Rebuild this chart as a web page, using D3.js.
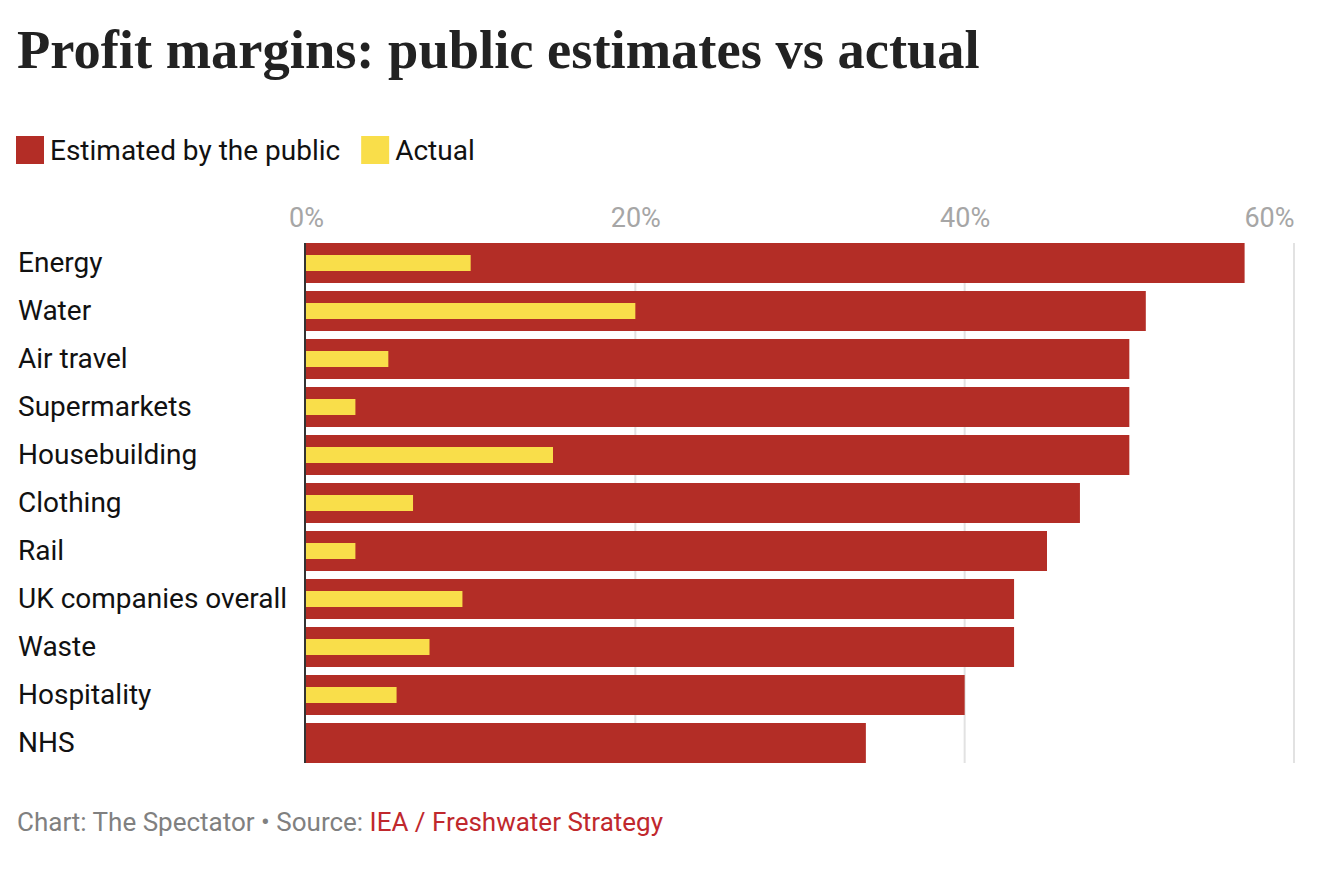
<!DOCTYPE html>
<html>
<head>
<meta charset="utf-8">
<script src="https://cdn.jsdelivr.net/npm/d3@7"></script>
<style>
  body { margin: 0; background: #fff; }
  svg text { font-family: Roboto, "Noto Sans", sans-serif; }
</style>
</head>
<body>
<div id="chart"></div>
<script>
// data
const categories = ["Energy", "Water", "Air travel", "Supermarkets", "Housebuilding", "Clothing",
  "Rail", "UK companies overall", "Waste", "Hospitality", "NHS"];
const estimated = [57, 51, 50, 50, 50, 47, 45, 43, 43, 40, 34];
const actual = [10, 20, 5, 3, 15, 6.5, 3, 9.5, 7.5, 5.5, 0];
const tickValues = [0, 20, 40, 60];
const seriesNames = ["Estimated by the public", "Actual"];
const colors = ["#b32d26", "#f9de4a"];

const width = 1326, height = 874;

const svg = d3.select("#chart").append("svg")
  .attr("width", width)
  .attr("height", height);

// title
const title = svg.append("text")
  .attr("x", 17)
  .attr("y", 68)
  .style("font-family", "'Liberation Serif', 'DejaVu Serif', serif")
  .style("font-weight", "bold")
  .style("font-size", "100px")
  .attr("fill", "#222")
  .text("Profit margins: public estimates vs actual");
// scale font so the title spans the same width as the reference
const tw = title.node().getComputedTextLength();
title.style("font-size", (100 * 963 / tw) + "px");

// legend
const legend = svg.append("g").attr("transform", "translate(16,136)");
let lx = 0;
seriesNames.forEach(function(name, i) {
  legend.append("rect")
    .attr("x", lx).attr("y", 0)
    .attr("width", 28).attr("height", 28)
    .attr("fill", colors[i]);
  const t = legend.append("text")
    .attr("x", lx + 34)
    .attr("y", 24)
    .style("font-size", "28px")
    .attr("fill", "#111")
    .text(name);
  lx += 34 + t.node().getComputedTextLength() + 21;
});

const x = d3.scaleLinear().domain([0, 60]).range([306, 1294]);
const y = d3.scaleBand().domain(categories).range([239, 767])
  .paddingInner(1 / 6).paddingOuter(1 / 12);

// gridlines
svg.append("g")
  .selectAll("line")
  .data(tickValues.slice(1))
  .enter()
  .append("line")
  .attr("x1", d => x(d)).attr("x2", d => x(d))
  .attr("y1", 243).attr("y2", 763)
  .attr("stroke", "#e2e2e2")
  .attr("stroke-width", 2);

// top axis labels
const xAxis = d3.axisTop(x)
  .tickValues(tickValues)
  .tickSize(0)
  .tickPadding(0)
  .tickFormat(d => d + "%");
const ax = svg.append("g")
  .attr("transform", "translate(0,227)")
  .call(xAxis);
ax.select(".domain").remove();
ax.selectAll("text")
  .style("font-size", "27px")
  .style("font-family", "Roboto, sans-serif")
  .attr("fill", "#a6a6a6")
  .attr("dy", 0)
  .attr("text-anchor", d => d === 60 ? "end" : "middle");

// bars
svg.append("g")
  .selectAll("rect")
  .data(estimated)
  .enter()
  .append("rect")
  .attr("x", x(0))
  .attr("y", (d, i) => y(categories[i]))
  .attr("width", d => x(d) - x(0))
  .attr("height", y.bandwidth())
  .attr("fill", colors[0]);

const inner = 16;
svg.append("g")
  .selectAll("rect")
  .data(actual)
  .enter()
  .append("rect")
  .attr("x", x(0))
  .attr("y", (d, i) => y(categories[i]) + (y.bandwidth() - inner) / 2)
  .attr("width", d => x(d) - x(0))
  .attr("height", inner)
  .attr("fill", colors[1]);

// category labels
svg.append("g")
  .selectAll("text")
  .data(categories)
  .enter()
  .append("text")
  .attr("x", 18)
  .attr("y", d => y(d) + y.bandwidth() / 2)
  .attr("dy", "0.33em")
  .style("font-size", "28px")
  .attr("fill", "#111")
  .text(d => d);

// axis line
svg.append("line")
  .attr("x1", 305).attr("x2", 305)
  .attr("y1", 243).attr("y2", 763)
  .attr("stroke", "#333")
  .attr("stroke-width", 2);

// footer
const foot = svg.append("text")
  .attr("x", 17)
  .attr("y", 831)
  .style("font-size", "26px");
foot.append("tspan").attr("fill", "#808080").text("Chart: The Spectator \u2022 Source: ");
foot.append("tspan").attr("fill", "#c0282d").text("IEA / Freshwater Strategy");
</script>
</body>
</html>
